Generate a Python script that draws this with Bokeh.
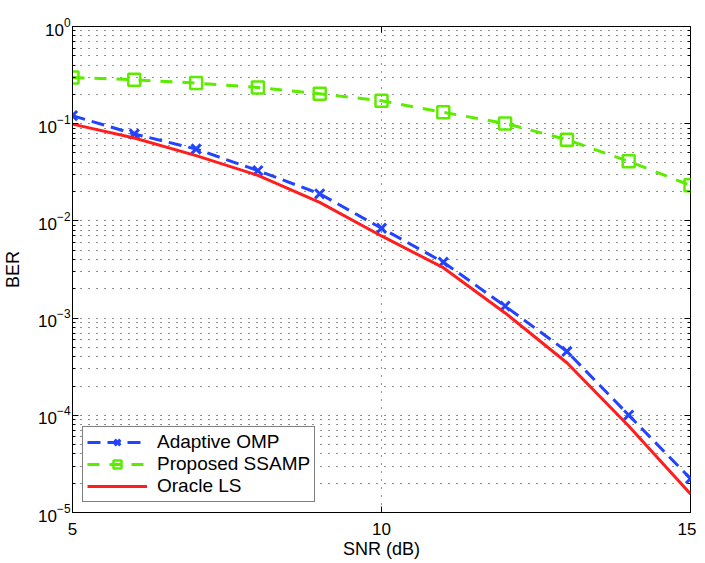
from bokeh.plotting import figure
from bokeh.models import (FixedTicker, LogAxis, LinearAxis, Legend, LegendItem, Range1d,
                          CustomJSTickFormatter)
from bokeh.embed import file_html
from bokeh.resources import INLINE

snr = [5, 6, 7, 8, 9, 10, 11, 12, 13, 14, 15]
omp = [0.121, 0.0784, 0.0549, 0.0329, 0.0190, 0.0084, 0.00376, 0.00133, 0.000454, 0.0001005, 2.23e-5]
ssamp = [0.299, 0.283, 0.262, 0.236, 0.203, 0.172, 0.131, 0.1007, 0.0685, 0.041, 0.0232]
oracle = [0.099, 0.0713, 0.0469, 0.0294, 0.0155, 0.0070, 0.0033, 0.00113, 0.000347, 7.76e-5, 1.55e-5]

x_ticks = [5, 10, 15]
y_major = [1e-5, 1e-4, 1e-3, 1e-2, 1e-1, 1e0]
y_minor = [k * d for d in y_major[:-1] for k in range(2, 10)]

FONT = "Liberation Sans"
BLUE = "#2244ff"
GREEN = "#5cec00"
RED = "#ff1e1e"

p = figure(frame_width=618, frame_height=486, y_axis_type="log",
           x_range=Range1d(5, 15), y_range=Range1d(1e-5, 1),
           output_backend="svg", toolbar_location=None,
           min_border_left=68, min_border_right=6, min_border_top=26, min_border_bottom=42)

p.background_fill_color = "white"
p.border_fill_color = "white"
p.outline_line_color = "black"
p.outline_line_width = 1

xt = FixedTicker(ticks=x_ticks, minor_ticks=[])
yt = FixedTicker(ticks=y_major, minor_ticks=y_minor)

xa = p.xaxis[0]
ya = p.yaxis[0]
xa.ticker = xt
ya.ticker = yt
xa.axis_label = "SNR (dB)"
ya.axis_label = "BER"
for ax in (xa, ya):
    ax.axis_label_text_font = FONT
    ax.axis_label_text_font_style = "normal"
    ax.axis_label_text_font_size = "18px"
    ax.major_label_text_font = FONT
    ax.major_label_text_font_size = "17px"
    ax.major_label_text_color = "black"
    ax.axis_label_text_color = "black"
    ax.axis_line_color = "black"
    ax.major_tick_line_color = "black"
    ax.minor_tick_line_color = "black"
    ax.major_tick_in = 6
    ax.major_tick_out = 0
    ax.minor_tick_in = 3
    ax.minor_tick_out = 0
xa.major_label_standoff = 10
xa.axis_label_standoff = 1
ya.major_label_standoff = 2
ya.axis_label_standoff = 12

# mirrored ticks on top and right (no labels)
blank = CustomJSTickFormatter(code="return ''")
ra = LogAxis(ticker=yt, formatter=blank, axis_line_color=None,
             major_tick_in=6, major_tick_out=0, minor_tick_in=3, minor_tick_out=0,
             major_tick_line_color="black", minor_tick_line_color="black",
             major_label_standoff=0, major_label_text_font_size="1px")
ta = LinearAxis(ticker=xt, formatter=blank, axis_line_color=None,
                major_tick_in=6, major_tick_out=0, major_tick_line_color="black",
                minor_tick_line_color=None, major_label_standoff=0,
                major_label_text_font_size="1px")
p.add_layout(ra, "right")
p.add_layout(ta, "above")

p.xgrid.ticker = xt
p.ygrid.ticker = yt
p.xgrid.grid_line_color = "#222222"
p.xgrid.grid_line_dash = "1 7"
p.xgrid.grid_line_width = 1
p.ygrid.grid_line_color = "#222222"
p.ygrid.grid_line_dash = "1 7"
p.ygrid.grid_line_width = 1
p.ygrid.minor_grid_line_color = "#222222"
p.ygrid.minor_grid_line_dash = "1 7"
p.ygrid.minor_grid_line_width = 1

l1 = p.line(snr, omp, line_color=BLUE, line_width=3, line_dash="13 7")
m1 = p.scatter(snr, omp, marker="x", size=13, line_color=BLUE, line_width=3)
l2 = p.line(snr, ssamp, line_color=GREEN, line_width=3, line_dash="12 10")
m2 = p.scatter(snr, ssamp, marker="square", size=12, line_color=GREEN, fill_color=None, line_width=2.5)
l3 = p.line(snr, oracle, line_color=RED, line_width=3)

legend = Legend(items=[
    LegendItem(label="Adaptive OMP", renderers=[l1, m1]),
    LegendItem(label="Proposed SSAMP", renderers=[l2, m2]),
    LegendItem(label="Oracle LS", renderers=[l3]),
], location="bottom_left")
legend.label_text_font = FONT
legend.label_text_font_size = "19px"
legend.label_text_color = "black"
legend.glyph_width = 60
legend.glyph_height = 20
legend.label_height = 20
legend.label_standoff = 10
legend.spacing = 0
legend.padding = 4
legend.margin = 10
legend.border_line_color = "black"
legend.border_line_width = 1
legend.background_fill_color = "white"
legend.background_fill_alpha = 1
p.add_layout(legend)

open("out.html", "w").write(file_html(p, INLINE))
